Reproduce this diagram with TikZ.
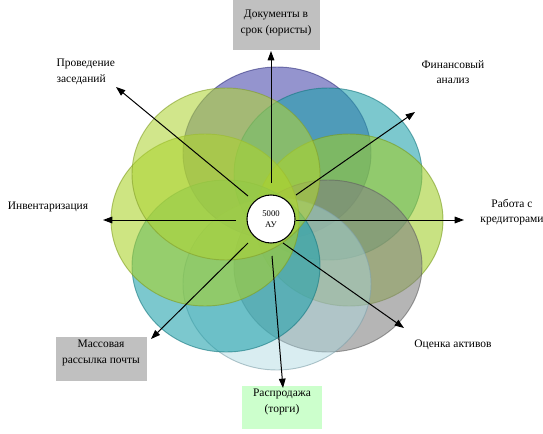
\documentclass[tikz,border=0pt]{standalone}
\usepackage{fontspec}
\setmainfont{Liberation Serif}
\usetikzlibrary{arrows.meta}

\definecolor{petalblue}{RGB}{70,70,170}
\definecolor{petalteal}{RGB}{30,160,170}
\definecolor{petalgreen}{RGB}{160,205,40}
\definecolor{petalgray}{RGB}{128,128,128}
\definecolor{petalice}{RGB}{170,215,225}
\definecolor{petallime}{RGB}{170,210,40}
\definecolor{petalpale}{RGB}{175,212,55}
\definecolor{boxgray}{RGB}{192,192,192}
\definecolor{boxgreen}{RGB}{204,255,204}

\begin{document}
\begin{tikzpicture}[x=0.75pt, y=-0.75pt,
    petal/.style={fill=#1, fill opacity=0.58, draw=#1!75!black, draw opacity=0.6, line width=0.7pt},
    spoke/.style={-{Triangle[length=7pt,width=5pt]}, line width=0.75pt},
    lbl/.style={font=\fontsize{8.6}{11.5}\selectfont, align=center, inner sep=1pt}]
    \useasboundingbox (0,0) rectangle (543,433);

    % petals (clockwise from top)
    \draw[petal=petalblue]  (277,153) ellipse [x radius=70.5pt, y radius=64.5pt];
    \draw[petal=petalteal]  (328,174) ellipse [x radius=70.5pt, y radius=64.5pt];
    \draw[petal=petalgreen] (349,220) ellipse [x radius=70.5pt, y radius=64.5pt];
    \draw[petal=petalgray]  (328,266) ellipse [x radius=70.5pt, y radius=64.5pt];
    \draw[petal=petalice, fill opacity=0.45] (277,284) ellipse [x radius=70.5pt, y radius=64.5pt];
    \draw[petal=petalteal]  (226,266) ellipse [x radius=70.5pt, y radius=64.5pt];
    \draw[petal=petallime]  (205,220) ellipse [x radius=70.5pt, y radius=64.5pt];
    \draw[petal=petalpale]  (226,174) ellipse [x radius=70.5pt, y radius=64.5pt];

    % hub
    \node[circle, draw, fill=white, line width=0.8pt, minimum size=36pt, inner sep=0pt,
          font=\fontsize{6.5}{8}\selectfont, align=center] (hub) at (271,219) {5000\\АУ};

    % boxes behind labels
    \fill[boxgray]  (233,-2) rectangle (320,50);
    \fill[boxgray]  (56,337) rectangle (147,381);
    \fill[boxgreen] (242,386) rectangle (322,429);

    % labels
    \node[lbl] (docs)  at (276,23)  {Документы в\\срок (юристы)};
    \node[lbl, align=left, anchor=west] (meet) at (55,72) {Проведение\\заседаний};
    \node[lbl] (fin)   at (453,72)  {Финансовый\\анализ};
    \node[lbl] (inv)   at (48,207)  {Инвентаризация};
    \node[lbl] (cred)  at (512,212) {Работа с\\кредиторами};
    \node[lbl] (mail)  at (101,353) {Массовая\\рассылка почты};
    \node[lbl] (asset) at (453,345) {Оценка активов};
    \node[lbl] (sale)  at (282,402) {Распродажа\\(торги)};

    % spoke ends
    \coordinate (nIn) at (271,183);  \coordinate (nOut) at (271,51);
    \coordinate (neIn) at (296,195); \coordinate (neOut) at (415,112);
    \coordinate (eIn) at (296,220);  \coordinate (eOut) at (464,220);
    \coordinate (seIn) at (283,243); \coordinate (seOut) at (404,328);
    \coordinate (sIn) at (272,256);  \coordinate (sOut) at (283,388);
    \coordinate (swIn) at (248,243); \coordinate (swOut) at (151,339);
    \coordinate (wIn) at (236,220);  \coordinate (wOut) at (103,220);
    \coordinate (nwIn) at (248,196); \coordinate (nwOut) at (116,87);

    % spokes
    \draw[spoke] (nIn) -- (nOut);
    \draw[spoke] (neIn) -- (neOut);
    \draw[spoke] (eIn) -- (eOut);
    \draw[spoke] (seIn) -- (seOut);
    \draw[spoke] (sIn) -- (sOut);
    \draw[spoke] (swIn) -- (swOut);
    \draw[spoke] (wIn) -- (wOut);
    \draw[spoke] (nwIn) -- (nwOut);
\end{tikzpicture}
\end{document}
